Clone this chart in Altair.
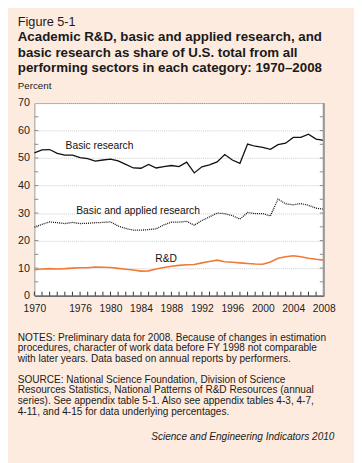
import altair as alt
import pandas as pd

years = list(range(1970, 2009))
basic = [51.9, 53.0, 53.1, 51.7, 51.1, 51.1, 50.2, 49.8, 48.9, 49.3,
         49.6, 49.0, 47.7, 46.4, 46.3, 47.7, 46.4, 46.9, 47.3, 46.9,
         48.5, 44.6, 46.8, 47.5, 48.6, 51.3, 49.3, 48.1, 55.1, 54.3,
         53.9, 53.2, 54.9, 55.4, 57.5, 57.5, 58.7, 56.9, 56.4]
basic_applied = [24.9, 25.9, 26.8, 26.5, 26.2, 26.6, 26.2, 26.3, 26.5, 26.6,
                 26.8, 25.3, 24.4, 23.8, 23.8, 24.0, 24.3, 25.7, 26.7, 26.7,
                 27.0, 25.6, 27.3, 28.6, 30.0, 29.8, 29.1, 27.8, 30.2, 29.8,
                 29.8, 29.0, 35.1, 33.4, 33.0, 33.5, 32.8, 31.8, 31.4]
rnd = [9.4, 9.7, 9.8, 9.7, 9.8, 10.0, 10.1, 10.1, 10.4, 10.3,
       10.2, 9.9, 9.6, 9.3, 8.9, 9.0, 9.7, 10.2, 10.7, 11.0,
       11.2, 11.3, 11.9, 12.4, 12.9, 12.3, 12.1, 11.9, 11.7, 11.5,
       11.4, 12.2, 13.6, 14.1, 14.5, 14.1, 13.6, 13.2, 12.9]

x_labels = [1970, 1976, 1980, 1984, 1988, 1992, 1996, 2000, 2004, 2008]
y_labels = [0, 10, 20, 30, 40, 50, 60, 70]
minor_y = [5, 15, 25, 35, 45, 55, 65]

series_labels = ["Basic research", "Basic and applied research", "R&D"]
label_years = [1974.1, 1975.5, 1987.3]
label_values = [54.5, 30.7, 13.2]

title_small = "Figure 5-1"
title_lines = ["Academic R&D, basic and applied research, and",
               "basic research as share of U.S. total from all",
               "performing sectors in each category: 1970\u20132008"]
unit_label = "Percent"
notes_lines = ["NOTES: Preliminary data for 2008. Because of changes in estimation",
               "procedures, character of work data before FY 1998 not comparable",
               "with later years. Data based on annual reports by performers."]
source_lines = ["SOURCE: National Science Foundation, Division of Science",
                "Resources Statistics, National Patterns of R&D Resources (annual",
                "series). See appendix table 5-1. Also see appendix tables 4-3, 4-7,",
                "4-11, and 4-15 for data underlying percentages."]
credit = "Science and Engineering Indicators 2010"

FONT = "Liberation Sans"
W, H = 296, 197

df = pd.DataFrame({"year": years, "basic": basic, "ba": basic_applied, "rnd": rnd})
xs = alt.Scale(domain=[1970, 2008], nice=False, zero=False)
ys = alt.Scale(domain=[0, 70], nice=False)

xax = alt.Axis(values=x_labels, format="d", ticks=False, grid=False, domain=True,
               domainColor="#333", domainWidth=1, labelFont=FONT, labelFontSize=10.5,
               labelColor="#222", labelPadding=8, title=None, labelFlush=False,
               labelOverlap=False)
yax = alt.Axis(values=y_labels, ticks=False, domain=False, grid=True,
               gridColor="#cccccc", gridDash=[1, 1], gridWidth=1,
               labelFont=FONT, labelFontSize=11, labelColor="#222",
               labelPadding=5, title=None, labelOverlap=False)

X = alt.X("year:Q", scale=xs, axis=xax)

base = alt.Chart(df)
l_basic = base.mark_line(color="#111", strokeWidth=1.3).encode(
    x=X, y=alt.Y("basic:Q", scale=ys, axis=yax))
l_ba = base.mark_line(color="#111", strokeWidth=1.3, strokeDash=[1, 1]).encode(
    x=X, y=alt.Y("ba:Q", scale=ys, axis=yax))
l_rnd = base.mark_line(color="#ef7b35", strokeWidth=1.6).encode(
    x=X, y=alt.Y("rnd:Q", scale=ys, axis=yax))

lab_df = pd.DataFrame({"t": series_labels, "year": label_years, "v": label_values})
lab_main = alt.Chart(lab_df.iloc[:2]).mark_text(align="left", baseline="middle", font=FONT,
                                               fontSize=10.5, color="#111").encode(
    x=X, y=alt.Y("v:Q", scale=ys, axis=yax), text="t:N")
lab_rnd = alt.Chart(lab_df.iloc[2:]).mark_text(align="center", baseline="middle", font=FONT,
                                              fontSize=10.5, color="#111").encode(
    x=X, y=alt.Y("v:Q", scale=ys, axis=yax), text="t:N")

tick_x = alt.Chart(pd.DataFrame({"year": years})).mark_rule(color="#333", strokeWidth=1).encode(
    x=X, y=alt.value(H), y2=alt.value(H - 4))
mdf = pd.DataFrame({"v": minor_y + y_labels[1:-1]})
tick_l = alt.Chart(mdf).mark_rule(color="#888", strokeWidth=1).encode(
    y=alt.Y("v:Q", scale=ys, axis=yax), x=alt.value(0), x2=alt.value(4))
tick_r = alt.Chart(mdf).mark_rule(color="#888", strokeWidth=1).encode(
    y=alt.Y("v:Q", scale=ys, axis=yax), x=alt.value(W - 4), x2=alt.value(W))
right_edge = alt.Chart(pd.DataFrame({"a": [0]})).mark_rule(color="#9a9a9a", strokeWidth=2).encode(
    x=alt.value(W), y=alt.value(0), y2=alt.value(H))


def txt(s, x, y, size=10.3, weight="normal", style="normal", align="left"):
    return alt.Chart(pd.DataFrame({"t": [s]})).mark_text(
        align=align, baseline="alphabetic", font=FONT, fontSize=size,
        fontWeight=weight, fontStyle=style, color="#1a1a1a").encode(
        x=alt.value(x), y=alt.value(y), text="t:N")


texts = [txt(title_small, -17, -79, size=13)]
for i, s in enumerate(title_lines):
    texts.append(txt(s, -17, -63 + 15.5 * i, size=13.6, weight="bold"))
texts.append(txt(unit_label, -17, -14, size=10))
for i, s in enumerate(notes_lines):
    texts.append(txt(s, -17, 243 + 11 * i))
for i, s in enumerate(source_lines):
    texts.append(txt(s, -17, 286 + 11 * i))
texts.append(txt(credit, 307, 345, style="italic", align="right"))

chart = alt.layer(
    l_ba, l_rnd, l_basic, lab_main, lab_rnd, tick_x, tick_l, tick_r, right_edge, *texts
).properties(
    width=W, height=H,
    padding={"left": 27, "top": 92, "right": 31, "bottom": 166},
    autosize=alt.AutoSizeParams(type="none"),
).configure(background="#fdebdf").configure_axis(
    labelOverlap=False
).configure_view(fill="white", stroke="#999", strokeWidth=1)

chart.save("out.html", embed_options={"renderer": "svg", "actions": False})
